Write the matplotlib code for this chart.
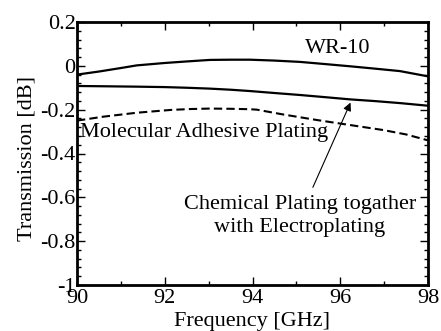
import matplotlib
matplotlib.use("Agg")
import matplotlib.pyplot as plt
from matplotlib.ticker import MultipleLocator, FixedLocator, FixedFormatter

plt.rcParams['font.family'] = ['Liberation Serif', 'DejaVu Serif']

freq_wr10 = [90.0, 90.5, 91.0, 91.36, 92.0, 92.5, 93.03, 93.5, 93.94, 94.5, 95.08, 95.6, 96.22, 96.8, 97.36, 98.0]
wr10 = [-0.040, -0.026, -0.010, 0.002, 0.013, 0.020, 0.027, 0.028, 0.028, 0.024, 0.018, 0.009, -0.002, -0.013, -0.024, -0.048]

freq_chem = [90.0, 90.5, 91.36, 92.0, 92.5, 93.03, 93.5, 93.94, 94.5, 95.08, 95.6, 96.22, 96.8, 97.36, 98.0]
chem = [-0.092, -0.093, -0.095, -0.097, -0.100, -0.104, -0.109, -0.115, -0.124, -0.133, -0.142, -0.153, -0.161, -0.170, -0.182]

freq_mol = [90.0, 90.6, 91.36, 92.15, 92.6, 93.03, 93.5, 93.94, 94.1, 94.7, 95.46, 96.22, 96.98, 97.5, 98.0]
mol = [-0.250, -0.232, -0.214, -0.201, -0.197, -0.195, -0.196, -0.198, -0.200, -0.222, -0.247, -0.270, -0.293, -0.313, -0.340]

yticks = [0.2, 0, -0.2, -0.4, -0.6, -0.8, -1]
ytick_labels = ['0.2', '0', '-0.2', '-0.4', '-0.6', '-0.8', '-1']
xticks = [90, 92, 94, 96, 98]
xtick_labels = ['90', '92', '94', '96', '98']

fig = plt.figure(figsize=(4.41, 3.31), dpi=100)
ax = fig.add_axes([77/441, 1-285/331, (428-77)/441, (285-22)/331])

ax.plot(freq_wr10, wr10, color='black', lw=1.6)
ax.plot(freq_chem, chem, color='black', lw=1.6)
ax.plot(freq_mol, mol, color='black', lw=1.5, dashes=(4, 2))

ax.set_xlim(90, 98)
ax.set_ylim(-1, 0.2)
ax.xaxis.set_major_locator(FixedLocator(xticks))
ax.xaxis.set_major_formatter(FixedFormatter(xtick_labels))
ax.xaxis.set_minor_locator(MultipleLocator(1))
ax.yaxis.set_major_locator(FixedLocator(yticks))
ax.yaxis.set_major_formatter(FixedFormatter(ytick_labels))
ax.yaxis.set_minor_locator(MultipleLocator(0.04))

ax.tick_params(which='both', direction='in', top=True, right=True, labelsize=16, width=1)
ax.tick_params(which='major', length=6)
ax.tick_params(axis='y', which='major', pad=1)
ax.tick_params(axis='x', which='major', pad=3)
ax.tick_params(which='minor', length=3)
for s in ax.spines.values():
    s.set_linewidth(2)

ax.set_xlabel('Frequency [GHz]', fontsize=16, labelpad=3)
ax.set_ylabel('Transmission [dB]', fontsize=16, labelpad=1)
ax.yaxis.set_label_coords(-0.115, 0.48)

ax.text(95.94, 0.077, 'WR-10', fontsize=16, ha='center', va='center')
ax.text(90.07, -0.306, 'Molecular Adhesive Plating', fontsize=16, ha='left', va='center')
ax.text(95.08, -0.685, 'Chemical Plating togather\nwith Electroplating', fontsize=16,
        ha='center', va='center', linespacing=1.3)
ax.annotate('', xy=(96.26, -0.156), xytext=(95.35, -0.566),
            arrowprops=dict(arrowstyle='-|>', color='black', lw=0.8, mutation_scale=12))

fig.savefig('out.png', dpi=100)
